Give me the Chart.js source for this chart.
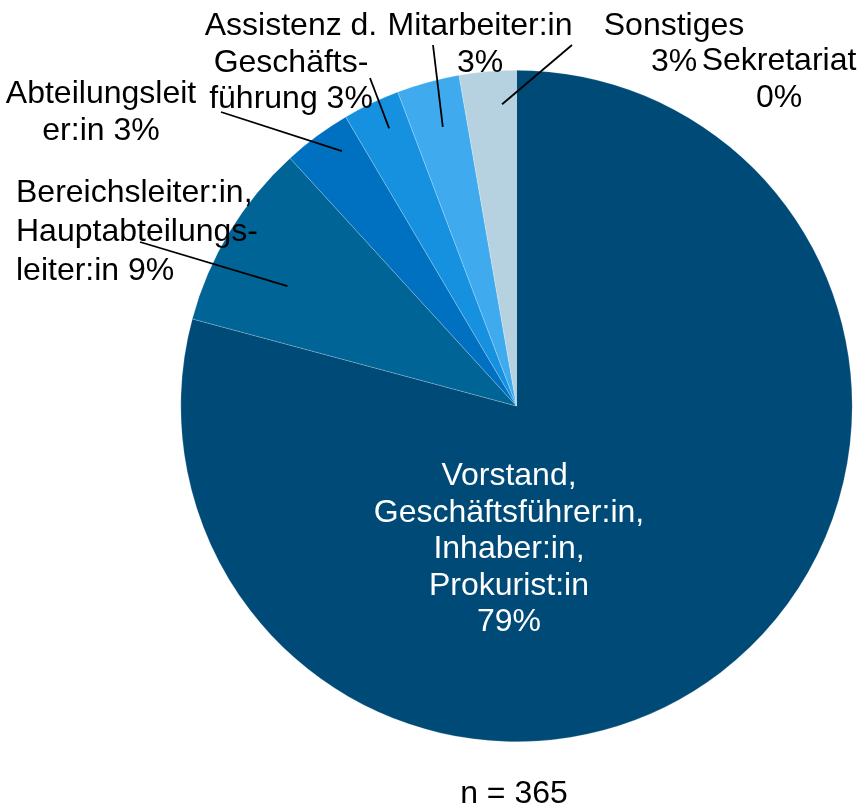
<!DOCTYPE html>
<html>
<head>
<meta charset="utf-8">
<script src="https://cdn.jsdelivr.net/npm/chart.js@4"></script>
<style>
  html, body { margin: 0; padding: 0; background: #fff; }
  canvas { display: block; }
</style>
</head>
<body>
<canvas id="positionChart" width="861" height="808"></canvas>
<script>
// categories and counts (n = 365)
const categories = [
  'Vorstand, Geschäftsführer:in, Inhaber:in, Prokurist:in',
  'Bereichsleiter:in, Hauptabteilungsleiter:in',
  'Abteilungsleiter:in',
  'Assistenz d. Geschäftsführung',
  'Mitarbeiter:in',
  'Sonstiges',
  'Sekretariat'
];
const counts = [289, 33, 12, 10, 11, 10, 0];
const sliceColors = ['#004a77', '#006496', '#0070c0', '#1591e0', '#40aaee', '#b6d2e0', '#d9d9d9'];

// how each label is broken into lines ({p} = percentage)
const labelLines = [
  ['Vorstand,', 'Geschäftsführer:in,', 'Inhaber:in,', 'Prokurist:in', '{p}'],
  ['Bereichsleiter:in,', 'Hauptabteilungs-', 'leiter:in {p}'],
  ['Abteilungsleit', 'er:in {p}'],
  ['Assistenz d.', 'Geschäfts-', 'führung {p}'],
  ['Mitarbeiter:in', '{p}'],
  ['Sonstiges', '{p}'],
  ['Sekretariat', '{p}']
];

// label placement (layout only)
const labelPlaces = [
  { x: 509, y: 485, align: 'center', gap: 36.5, color: '#fff' },
  { x: 16, y: 202, align: 'left', gap: 39, lead: { from: [140, 242], frac: 0.77, spin: -3.7 } },
  { x: 101, y: 103, align: 'center', gap: 37, lead: { from: [221, 112], frac: 0.92, spin: 2.1 } },
  { x: 291, y: 35, align: 'center', gap: 36.5, lead: { from: [370, 78], frac: 0.91, spin: 1.0 } },
  { x: 480, y: 35, align: 'center', gap: 36.5, lead: { from: [433, 45], frac: 0.86, spin: 0.5 } },
  { x: 674, y: 35, align: 'center', gap: 35.5, lead: { from: [572, 45], frac: 0.90, spin: 2.2 } },
  { x: 779, y: 70, align: 'center', gap: 37 }
];

const total = counts.reduce((a, b) => a + b, 0);
const FONT = '32px "Liberation Sans", Arial, sans-serif';

const labelPlugin = {
  id: 'pieLabels',
  afterDraw(chart) {
    const ctx = chart.ctx;
    const arcs = chart.getDatasetMeta(0).data;
    ctx.save();
    ctx.font = FONT;
    ctx.textBaseline = 'alphabetic';

    // leader lines first
    ctx.strokeStyle = '#000';
    ctx.lineWidth = 1.8;
    labelPlaces.forEach((place, i) => {
      if (!place.lead) return;
      const arc = arcs[i];
      const p = arc.getProps(['x', 'y', 'startAngle', 'endAngle', 'outerRadius'], true);
      const mid = (p.startAngle + p.endAngle) / 2 + place.lead.spin * Math.PI / 180;
      const r = p.outerRadius * place.lead.frac;
      ctx.beginPath();
      ctx.moveTo(place.lead.from[0], place.lead.from[1]);
      ctx.lineTo(p.x + Math.cos(mid) * r, p.y + Math.sin(mid) * r);
      ctx.stroke();
    });

    labelPlaces.forEach((place, i) => {
      const pct = Math.round(counts[i] / total * 100) + '%';
      ctx.fillStyle = place.color || '#000';
      ctx.textAlign = place.align;
      labelLines[i].forEach((line, k) => {
        ctx.fillText(line.replace('{p}', pct), place.x, place.y + k * place.gap);
      });
    });

    ctx.fillStyle = '#000';
    ctx.textAlign = 'center';
    ctx.fillText('n = ' + total, 514, 803);
    ctx.restore();
  }
};

new Chart(document.getElementById('positionChart'), {
  type: 'pie',
  data: {
    labels: categories,
    datasets: [{
      data: counts,
      backgroundColor: sliceColors,
      borderColor: 'rgba(255,255,255,0.35)',
      borderWidth: 0.6
    }]
  },
  options: {
    responsive: false,
    animation: false,
    layout: { padding: { left: 180, right: 8, top: 70, bottom: 66 } },
    plugins: {
      legend: { display: false },
      tooltip: { enabled: false }
    }
  },
  plugins: [labelPlugin]
});
</script>
</body>
</html>
